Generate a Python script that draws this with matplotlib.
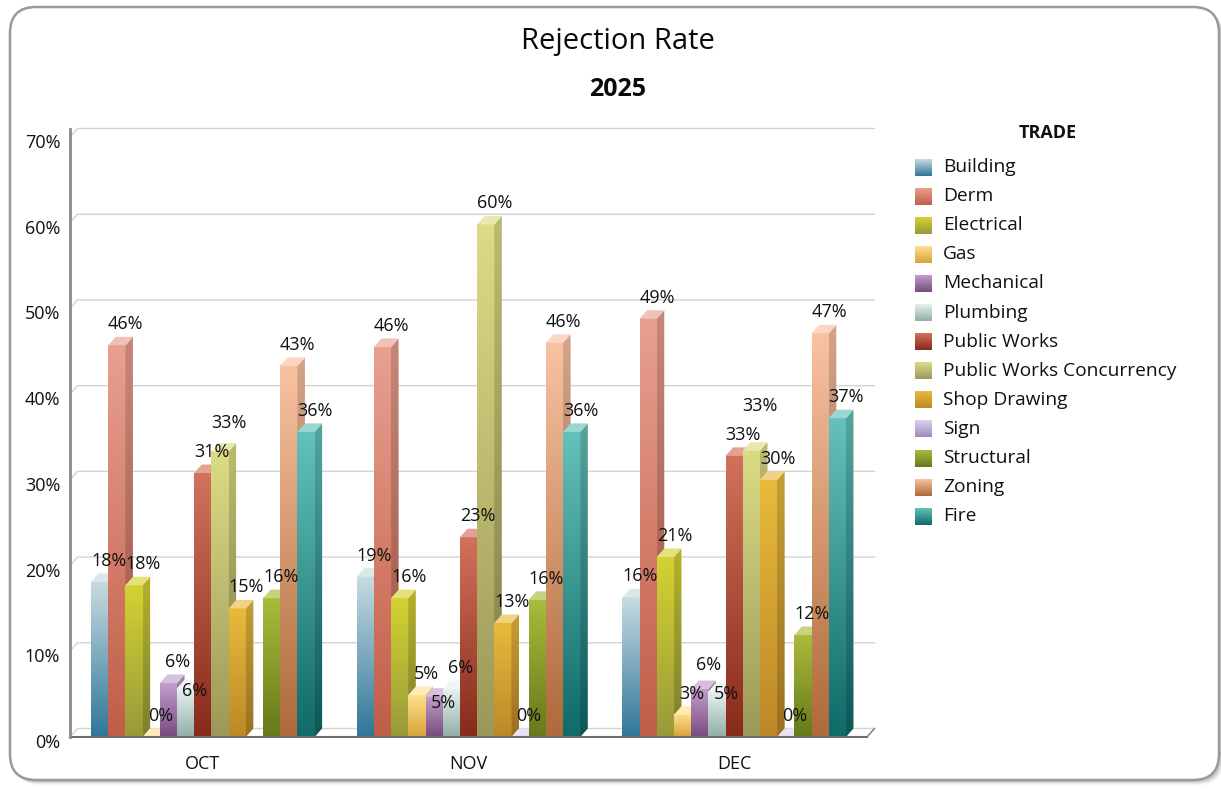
import numpy as np
import matplotlib
matplotlib.use("Agg")
import matplotlib.pyplot as plt
from matplotlib.colors import LinearSegmentedColormap, to_rgb
from matplotlib.patches import Polygon, FancyBboxPatch
from matplotlib.transforms import ScaledTranslation

# ---------------- data ----------------
months = ["OCT", "NOV", "DEC"]
trades = ["Building", "Derm", "Electrical", "Gas", "Mechanical", "Plumbing",
          "Public Works", "Public Works Concurrency", "Shop Drawing", "Sign",
          "Structural", "Zoning", "Fire"]
building = [18.1, 18.7, 16.3]
derm = [45.7, 45.5, 48.8]
electrical = [17.7, 16.2, 21.0]
gas = [0.0, 4.9, 2.6]
mechanical = [6.3, 4.7, 5.6]
plumbing = [5.7, 5.6, 5.3]
public_works = [30.8, 23.3, 32.8]
pw_concurrency = [33.3, 59.8, 33.4]
shop_drawing = [15.0, 13.3, 30.0]
sign = [None, 0.0, 0.0]
structural = [16.2, 16.0, 11.9]
zoning = [43.3, 46.0, 47.1]
fire = [35.6, 35.6, 37.2]
series = [building, derm, electrical, gas, mechanical, plumbing, public_works,
          pw_concurrency, shop_drawing, sign, structural, zoning, fire]

top_colors = ["#c8dbe1", "#e8a090", "#d4d232", "#fee08e", "#c29ecb", "#e8f1f0",
              "#d2725c", "#dcdc84", "#e8ba3c", "#ddd2ee", "#aabc3a", "#f9c2a2", "#64c2ba"]
bottom_colors = ["#2e7698", "#c05e48", "#989a3a", "#d8a238", "#784a7e", "#92aea6",
                 "#882a1a", "#9c985a", "#bc8828", "#9e8aba", "#66781a", "#ae6a3a", "#0f6a68"]

y_ticks = [0, 10, 20, 30, 40, 50, 60, 70]
y_tick_labels = [f"{t}%" for t in y_ticks]
title = "Rejection Rate"
subtitle = "2025"
legend_title = "TRADE"

# ---------------- style helpers ----------------
def mix(c, other, t):
    a = np.array(to_rgb(c)); b = np.array(to_rgb(other))
    return tuple(a * (1 - t) + b * t)

def darker(c, f=0.8):
    return tuple(np.array(to_rgb(c)) * f)

GRAD = np.linspace(0, 1, 256).reshape(-1, 1)

W, H = 1221, 789
plt.rcParams["font.family"] = ["Open Sans", "DejaVu Sans"]
fig = plt.figure(figsize=(W / 100, H / 100), dpi=100)

# background / frame axes in pixel units
bg = fig.add_axes([0, 0, 1, 1])
bg.set_axis_off()
for k, a in enumerate([0.06, 0.08, 0.10, 0.14]):
    off = 5 - k
    bg.add_patch(FancyBboxPatch((10 + off, 7 + off), 1209, 773,
                                boxstyle="round,pad=0,rounding_size=26",
                                fc=(0.35, 0.35, 0.35, a), ec="none", zorder=0))
bg.add_patch(FancyBboxPatch((10, 7), 1209, 773, boxstyle="round,pad=0,rounding_size=26",
                            fc="white", ec="#9a9a9a", lw=1.8, zorder=1))

# titles
fig.text(618 / W, 1 - 42 / H, title, ha="center", va="center", fontsize=21, color="#0a0a0a")
fig.text(618 / W, 1 - 90 / H, subtitle, ha="center", va="center", fontsize=18,
         fontweight="bold", color="#0a0a0a")

# legend (pixel coordinates on bg axes)
bg.text(1048, 133, legend_title, ha="center", va="center", fontsize=13,
        fontweight="bold", color="#111111", zorder=3)
for i, name in enumerate(trades):
    yc = 167 + i * 29.1
    cmap = LinearSegmentedColormap.from_list("l", [bottom_colors[i], top_colors[i]])
    bg.imshow(GRAD, extent=(915, 932, yc + 8.5, yc - 8.5), origin="lower", cmap=cmap,
              aspect="auto", zorder=3, interpolation="bilinear")
    bg.text(943, yc, name, ha="left", va="center", fontsize=13.8, color="#111111", zorder=3)
bg.set_xlim(0, W)
bg.set_ylim(H, 0)

# ---------------- main plot ----------------
L, R, B, T = 70, 867, 737, 137
ax = fig.add_axes([L / W, (H - B) / H, (R - L) / W, (B - T) / H])
ax.patch.set_alpha(0)
ncat = len(months)
px_x = (R - L) / ncat
px_y = (B - T) / 70.0
DX = 7.5 / px_x
DY = 8.5 / px_y
bw = 17.2 / px_x
nser = len(trades)
x_left = -0.5

# back wall gridlines with left wall slant
for v in y_ticks:
    ax.plot([x_left, x_left + DX, ncat - 0.5 + DX], [v, v + DY, v + DY],
            color="#d3d3d3", lw=1, clip_on=False, zorder=1)
# floor right edge
ax.plot([ncat - 0.5, ncat - 0.5 + DX], [0, DY], color="#7a7a7a", lw=1, clip_on=False, zorder=2)

label_off = 21 / px_y
label_sep = 29 / px_y
for g in range(ncat):
    x_start = g - nser * bw / 2
    prev = None  # (index, y, value)
    for i in range(nser):
        v = series[i][g]
        if v is None:
            prev = None
            continue
        z = 10 + g * 40 + i
        x0 = x_start + i * bw
        x1 = x0 + bw
        cmap = LinearSegmentedColormap.from_list("f", [bottom_colors[i], top_colors[i]])
        cmap_s = LinearSegmentedColormap.from_list(
            "s", [darker(bottom_colors[i], 0.82), darker(top_colors[i], 0.85)])
        if v > 0:
            ax.imshow(GRAD, extent=(x0, x1, 0, v), origin="lower", cmap=cmap,
                      aspect="auto", zorder=z, interpolation="bilinear")
            side = Polygon([(x1, 0), (x1 + DX, DY), (x1 + DX, v + DY), (x1, v)],
                           closed=True, transform=ax.transData, fc="none", ec="none")
            im = ax.imshow(GRAD, extent=(x1, x1 + DX, 0, v + DY), origin="lower", cmap=cmap_s,
                           aspect="auto", zorder=z, interpolation="bilinear")
            im.set_clip_path(side)
        topc = mix(top_colors[i], "white", 0.35)
        ax.add_patch(Polygon([(x0, v), (x0 + DX, v + DY), (x1 + DX, v + DY), (x1, v)],
                             closed=True, fc=topc, ec="none", zorder=z, clip_on=False))
        # label placement (avoid overlapping the neighbouring label)
        ly = v + label_off
        if prev is not None and prev[0] == i - 1 and abs(ly - prev[1]) < label_sep:
            if v >= prev[2]:
                ly = prev[1] + label_sep
            else:
                ly = prev[1] - label_sep
        ax.text((x0 + x1) / 2 + 9 / px_x, ly, f"{round(v)}%", ha="center", va="center",
                fontsize=13, color="#111111", zorder=500, clip_on=False)
        prev = (i, ly, v)

# front floor line and y axis line
ax.plot([x_left, ncat - 0.5], [0, 0], color="#6e6e6e", lw=1.5, zorder=400, clip_on=False)
ax.plot([x_left, x_left], [0, 70 + DY], color="#8a8a8a", lw=2, zorder=400, clip_on=False)

ax.set_xlim(-0.5, ncat - 0.5)
ax.set_ylim(0, 70)
for s in ax.spines.values():
    s.set_visible(False)
ax.set_yticks(y_ticks, y_tick_labels)
ax.set_xticks(range(ncat), months)
ax.tick_params(axis="y", length=0, pad=7, labelsize=13, labelcolor="#111111")
ax.tick_params(axis="x", length=0, pad=13, labelsize=13, labelcolor="#111111")
off = ScaledTranslation(0, -4 / 100, fig.dpi_scale_trans)
for lbl in ax.get_yticklabels():
    lbl.set_transform(lbl.get_transform() + off)

fig.savefig("out.png", dpi=100)
